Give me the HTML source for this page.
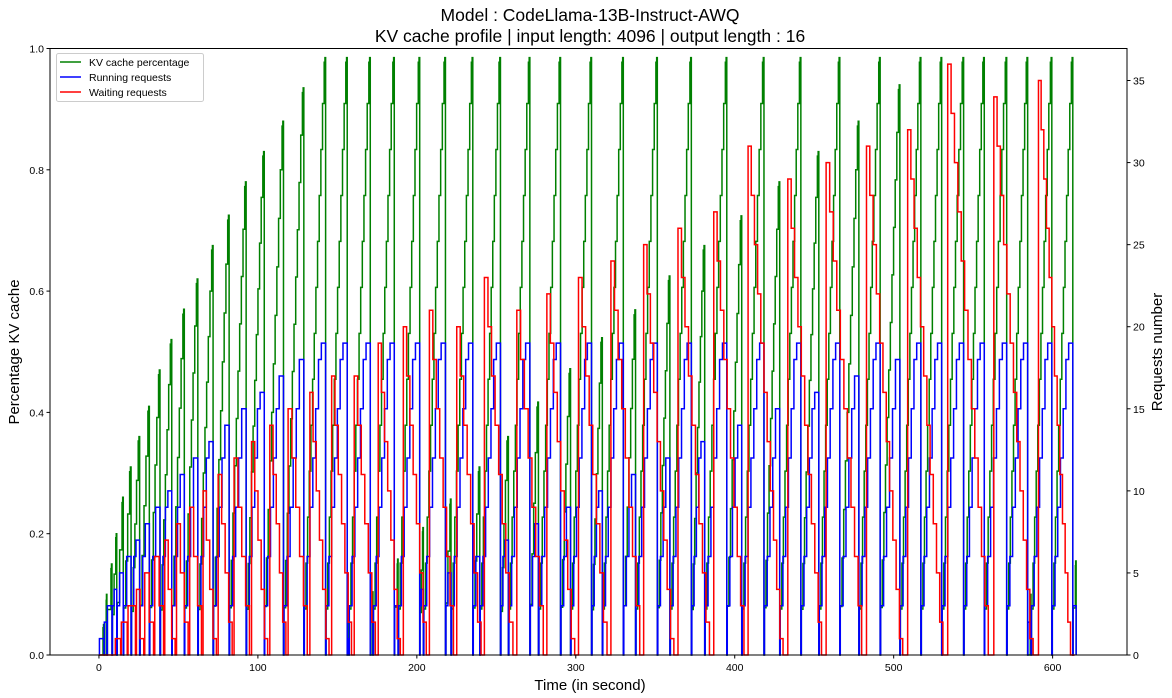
<!DOCTYPE html>
<html><head><meta charset="utf-8"><style>
html,body{margin:0;padding:0;background:#fff;}
svg{display:block;font-family:"Liberation Sans",sans-serif;}
</style></head><body>
<svg id="chart" width="1172" height="698" viewBox="0 0 1172 698" xmlns="http://www.w3.org/2000/svg">
<rect width="1172" height="698" fill="#fff"/>
<text x="590" y="21" font-size="17.5" text-anchor="middle" fill="#000">Model : CodeLlama-13B-Instruct-AWQ</text>
<text x="590" y="42" font-size="17.5" text-anchor="middle" fill="#000">KV cache profile | input length: 4096 | output length : 16</text>
<g id="series"></g>
<g id="axes"></g>
<text x="590" y="690" font-size="15" text-anchor="middle" fill="#000">Time (in second)</text>
<text transform="translate(19,352) rotate(-90)" font-size="15" text-anchor="middle" fill="#000">Percentage KV cache</text>
<text transform="translate(1162,352) rotate(-90)" font-size="15" text-anchor="middle" fill="#000">Requests number</text>
<g>
<rect x="56.5" y="53.5" width="147" height="48" rx="2" fill="#fff" fill-opacity="0.8" stroke="#ccc"/>
<g><line x1="60" y1="62" x2="81" y2="62" stroke="green" stroke-width="1.5"/><text x="89" y="66" font-size="10.5">KV cache percentage</text></g>
<g><line x1="60" y1="77" x2="81" y2="77" stroke="blue" stroke-width="1.5"/><text x="89" y="81" font-size="10.5">Running requests</text></g>
<g><line x1="60" y1="92" x2="81" y2="92" stroke="red" stroke-width="1.5"/><text x="89" y="96" font-size="10.5">Waiting requests</text></g>
</g>
</svg>
<script>
// KV cache cycle peaks: time (s) and peak fraction
const kvPeakTimes = [3.0,4.8,8.0,11.0,15.1,20.0,25.4,31.5,38.2,45.6,53.5,62.0,71.6,81.7,92.4,103.8,115.9,128.7,142.4,156.0,157.0,170.5,172.2,185.6,188.0,201.6,203.9,217.8,221.3,235.0,239.4,252.4,257.4,270.9,276.3,290.2,296.5,309.7,316.5,329.7,337.4,351.1,359.0,372.5,380.9,394.8,404.2,418.2,428.1,441.4,452.7,465.9,477.9,491.3,503.7,516.9,530.0,543.8,556.8,570.9,584.1,586.2,599.3,612.5,614.6];
const kvPeakValues = [0.05,0.10,0.15,0.20,0.26,0.31,0.36,0.41,0.47,0.52,0.57,0.62,0.675,0.725,0.78,0.83,0.88,0.935,0.985,0.985,0.053,0.985,0.104,0.985,0.158,0.985,0.21,0.985,0.257,0.985,0.31,0.985,0.36,0.985,0.417,0.985,0.472,0.985,0.523,0.985,0.569,0.985,0.625,0.985,0.675,0.985,0.724,0.985,0.78,0.985,0.83,0.985,0.88,0.985,0.94,0.985,0.985,0.985,0.985,0.985,0.985,0.10,0.985,0.985,0.155];
// Waiting-request bursts: time (s) and peak count
const waitPeakTimes = [10.3,14.1,18.3,23.6,28.8,35.1,41.4,48.8,57.1,65.5,75.0,85.0,96.0,107.5,119.0,132.7,146.4,160.6,175.7,191.5,207.9,225.1,242.5,262.9,281.8,301.7,322.1,342.7,364.3,386.8,408.4,433.4,457.5,482.9,508.8,534.0,563.0,591.1];
const waitPeakValues = [1,2,3,4,5,6,7,8,9,10,11,12,13,14,15,16,17,17,19,20,21,20,23,21,22,23,24,25,26,27,31,29,30,31,32,36,34,35];
const waitEndTime = 614;
const runningMax = 19;
const xTicks = [0,100,200,300,400,500,600];
const yLeftTicks = [0,0.2,0.4,0.6,0.8,1.0];
const yRightTicks = [0,5,10,15,20,25,30,35];

const L=50,R=1127,T=48.5,B=655;
const xMin=-30.8,xMax=646.8,yRMax=36.95;
const X=t=>L+(t-xMin)/(xMax-xMin)*(R-L);
const YL=v=>B-v*(B-T);
const YR=v=>B-v/yRMax*(B-T);
const NS='http://www.w3.org/2000/svg';
const series=document.getElementById('series');
const axes=document.getElementById('axes');

function stepPath(pts,yf){ // pts: [t,v] step-post
  let d='';let prevY=null;
  pts.forEach((p,i)=>{const x=X(p[0]).toFixed(2),y=yf(p[1]).toFixed(2);
    if(i===0)d+='M'+x+' '+y;else d+='H'+x+'V'+y;});
  return d;
}
// build KV and running series
const kv=[[0,0]],run=[[0,0]];
let prev=0;
for(let i=0;i<kvPeakTimes.length;i++){
  const tp=kvPeakTimes[i],v=kvPeakValues[i];
  const span=tp-prev;
  const start=prev+Math.min(0.3,span*0.1);
  const n=Math.max(1,Math.round(v/0.078));
  const spike=Math.min(0.7,span*0.15);
  const climb=tp-spike-start;
  kv.push([prev,0]);
  for(let k=1;k<n;k++)kv.push([start+climb*(k-1)/Math.max(1,n-1),v*k/n]);
  kv.push([tp-spike,v*(n-1)/n+(v/n)*0.9]);
  kv.push([tp-spike*0.3,v]);
  const b=Math.min(runningMax,Math.round(v*runningMax/0.985));
  const nb=Math.max(1,Math.ceil(b/3));
  run.push([prev,0]);
  for(let k=1;k<=nb;k++)run.push([start+climb*(k-1)/nb,Math.min(b,3*k)]);
  run.push([tp-spike*0.5,b]);
  prev=tp+0.2;
}
kv.push([prev,0]);run.push([prev,0]);
const wait=[[0,0]];
for(let i=0;i<waitPeakTimes.length;i++){
  const tp=waitPeakTimes[i],r=waitPeakValues[i];
  const next=i+1<waitPeakTimes.length?waitPeakTimes[i+1]:waitEndTime;
  const span=(next-tp)*0.88;
  const n=Math.max(1,Math.ceil(r/3));
  wait.push([tp,0]);
  for(let k=0;k<n;k++)wait.push([tp+span*k/n,Math.max(0,r-3*k)]);
  wait.push([tp+span,0]);
}
wait.push([waitEndTime,0]);

function addPath(d,color,name){
  const p=document.createElementNS(NS,'path');
  p.setAttribute('d',d);p.setAttribute('fill','none');p.setAttribute('stroke',color);
  p.setAttribute('stroke-width','1.5');p.setAttribute('stroke-linejoin','miter');
  
  
  series.appendChild(p);
}
addPath(stepPath(kv,YL),'green','kv-cache-line');
addPath(stepPath(run,YR),'blue','running-requests-line');
addPath(stepPath(wait,YR),'red','waiting-requests-line');

function line(x1,y1,x2,y2,w){const l=document.createElementNS(NS,'line');
  l.setAttribute('x1',x1);l.setAttribute('y1',y1);l.setAttribute('x2',x2);l.setAttribute('y2',y2);
  l.setAttribute('stroke','#000');l.setAttribute('stroke-width',w||1);axes.appendChild(l);return l;}
function txt(x,y,s,anchor,name){const t=document.createElementNS(NS,'text');
  t.setAttribute('x',x);t.setAttribute('y',y);t.setAttribute('font-size','10.5');
  t.setAttribute('text-anchor',anchor);t.textContent=s;
  
  
  axes.appendChild(t);}
const frame=document.createElementNS(NS,'rect');
frame.setAttribute('x',L);frame.setAttribute('y',T);frame.setAttribute('width',R-L);frame.setAttribute('height',B-T);
frame.setAttribute('fill','none');frame.setAttribute('stroke','#000');frame.setAttribute('stroke-width','1');


axes.appendChild(frame);
xTicks.forEach(t=>{const x=X(t);line(x,B,x,B+3.5);txt(x,B+16,String(t),'middle','x-tick-label');});
yLeftTicks.forEach(v=>{const y=YL(v);line(L-3.5,y,L,y);txt(L-6,y+4,v.toFixed(1),'end','y-left-tick-label');});
yRightTicks.forEach(v=>{const y=YR(v);line(R,y,R+3.5,y);txt(R+6,y+4,String(v),'start','y-right-tick-label');});
</script>
</body></html>
